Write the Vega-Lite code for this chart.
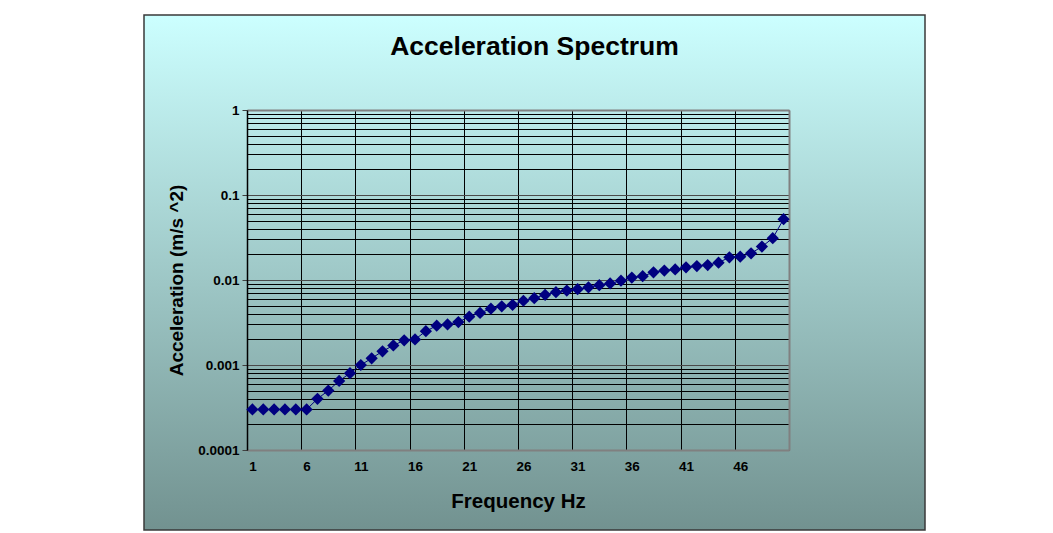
{
  "$schema": "https://vega.github.io/schema/vega-lite/v6.json",
  "width": 781,
  "height": 515,
  "autosize": {"type": "none"},
  "padding": {"left": 144, "top": 15, "right": 128, "bottom": 3},
  "background": "#ffffff",
  "config": {
    "view": {
      "fill": {
        "gradient": "linear",
        "x1": 0, "y1": 0, "x2": 0, "y2": 1,
        "stops": [
          {"offset": 0, "color": "#CCFFFF"},
          {"offset": 1, "color": "#729290"}
        ]
      },
      "stroke": "#3a3a3a",
      "strokeWidth": 1.5
    },
    "font": "Liberation Sans",
    "axis": {
      "labelFont": "Liberation Sans",
      "labelFontWeight": "bold",
      "labelFontSize": 13.5,
      "labelColor": "#000000",
      "titleFont": "Liberation Sans",
      "titleFontWeight": "bold",
      "titleColor": "#000000",
      "labelFlush": false,
      "labelOverlap": false
    }
  },
  "title": {
    "text": "Acceleration Spectrum",
    "font": "Liberation Sans",
    "fontSize": 26.5,
    "fontWeight": "bold",
    "color": "#000000",
    "anchor": "middle",
    "frame": "group",
    "baseline": "alphabetic",
    "offset": -66
  },
  "data": {
    "values": [
      {"f": 1, "a": 0.0003}, {"f": 2, "a": 0.0003}, {"f": 3, "a": 0.0003}, {"f": 4, "a": 0.0003},
      {"f": 5, "a": 0.0003}, {"f": 6, "a": 0.0003}, {"f": 7, "a": 0.0004}, {"f": 8, "a": 0.0005},
      {"f": 9, "a": 0.00065}, {"f": 10, "a": 0.0008}, {"f": 11, "a": 0.001}, {"f": 12, "a": 0.0012},
      {"f": 13, "a": 0.00145}, {"f": 14, "a": 0.0017}, {"f": 15, "a": 0.00195}, {"f": 16, "a": 0.002},
      {"f": 17, "a": 0.0025}, {"f": 18, "a": 0.0029}, {"f": 19, "a": 0.003}, {"f": 20, "a": 0.0032},
      {"f": 21, "a": 0.0037}, {"f": 22, "a": 0.0041}, {"f": 23, "a": 0.0046}, {"f": 24, "a": 0.0049},
      {"f": 25, "a": 0.0051}, {"f": 26, "a": 0.0057}, {"f": 27, "a": 0.0061}, {"f": 28, "a": 0.0067},
      {"f": 29, "a": 0.0072}, {"f": 30, "a": 0.0075}, {"f": 31, "a": 0.0078}, {"f": 32, "a": 0.0082},
      {"f": 33, "a": 0.0087}, {"f": 34, "a": 0.0091}, {"f": 35, "a": 0.0098}, {"f": 36, "a": 0.0107},
      {"f": 37, "a": 0.0111}, {"f": 38, "a": 0.0123}, {"f": 39, "a": 0.0129}, {"f": 40, "a": 0.0133},
      {"f": 41, "a": 0.0141}, {"f": 42, "a": 0.0146}, {"f": 43, "a": 0.015}, {"f": 44, "a": 0.016},
      {"f": 45, "a": 0.0185}, {"f": 46, "a": 0.0188}, {"f": 47, "a": 0.0206}, {"f": 48, "a": 0.0247},
      {"f": 49, "a": 0.031}, {"f": 50, "a": 0.052}
    ]
  },
  "layer": [
    {
      "mark": {"type": "point", "shape": "diamond", "filled": true, "size": 150, "color": "#000080", "opacity": 1},
      "encoding": {
        "x": {
          "field": "f",
          "type": "quantitative",
          "scale": {"domain": [0.5, 50.5], "range": [103, 645], "nice": false, "zero": false},
          "axis": {
            "orient": "bottom",
            "offset": -80,
            "values": [1, 6, 11, 16, 21, 26, 31, 36, 41, 46],
            "grid": false,
            "ticks": false,
            "domain": true,
            "domainColor": "#808080",
            "domainWidth": 2,
            "labelPadding": 9,
            "title": "Frequency Hz",
            "titleFontSize": 20.5,
            "titlePadding": 19
          }
        },
        "y": {
          "field": "a",
          "type": "quantitative",
          "scale": {"type": "log", "domain": [0.0001, 1], "range": [435, 95], "nice": false, "zero": false},
          "axis": {
            "orient": "left",
            "offset": -103,
            "values": [0.0001, 0.0002, 0.0003, 0.0004, 0.0005, 0.0006, 0.0007, 0.0008, 0.0009,
                       0.001, 0.002, 0.003, 0.004, 0.005, 0.006, 0.007, 0.008, 0.009,
                       0.01, 0.02, 0.03, 0.04, 0.05, 0.06, 0.07, 0.08, 0.09,
                       0.1, 0.2, 0.3, 0.4, 0.5, 0.6, 0.7, 0.8, 0.9, 1],
            "format": "~g",
            "labelExpr": "abs(log(datum.value)/LN10 - round(log(datum.value)/LN10)) < 0.001 ? datum.label : ''",
            "labelPadding": 3,
            "grid": true,
            "gridColor": {"condition": {"test": "abs(log(datum.value)/LN10 - round(log(datum.value)/LN10)) < 0.001", "value": "#4a4a4a"}, "value": "#000000"},
            "gridWidth": 1,
            "gridOpacity": 1,
            "ticks": true,
            "tickSize": 5,
            "tickColor": "#404040",
            "tickOpacity": {"condition": {"test": "abs(log(datum.value)/LN10 - round(log(datum.value)/LN10)) < 0.001", "value": 1}, "value": 0},
            "domain": true,
            "domainColor": "#000000",
            "domainWidth": 1.5,
            "title": "Acceleration (m/s ^2)",
            "titleFontSize": 19,
            "titlePadding": 11
          }
        }
      }
    },
    {
      "mark": {"type": "line", "color": "#000080", "strokeWidth": 1},
      "encoding": {
        "x": {
          "field": "f",
          "type": "quantitative",
          "axis": {
            "orient": "top",
            "offset": -95,
            "values": [5.5, 10.5, 15.5, 20.5, 25.5, 30.5, 35.5, 40.5, 45.5],
            "grid": true,
            "gridColor": "#000000",
            "gridWidth": 1,
            "gridOpacity": 1,
            "labels": false,
            "ticks": false,
            "domain": true,
            "domainColor": "#808080",
            "domainWidth": 2,
            "title": null
          }
        },
        "y": {
          "field": "a",
          "type": "quantitative",
          "axis": {
            "orient": "right",
            "offset": -136,
            "grid": false,
            "labels": false,
            "ticks": false,
            "domain": true,
            "domainColor": "#808080",
            "domainWidth": 2,
            "title": null
          }
        }
      }
    }
  ],
  "resolve": {"axis": {"x": "independent", "y": "independent"}}
}
